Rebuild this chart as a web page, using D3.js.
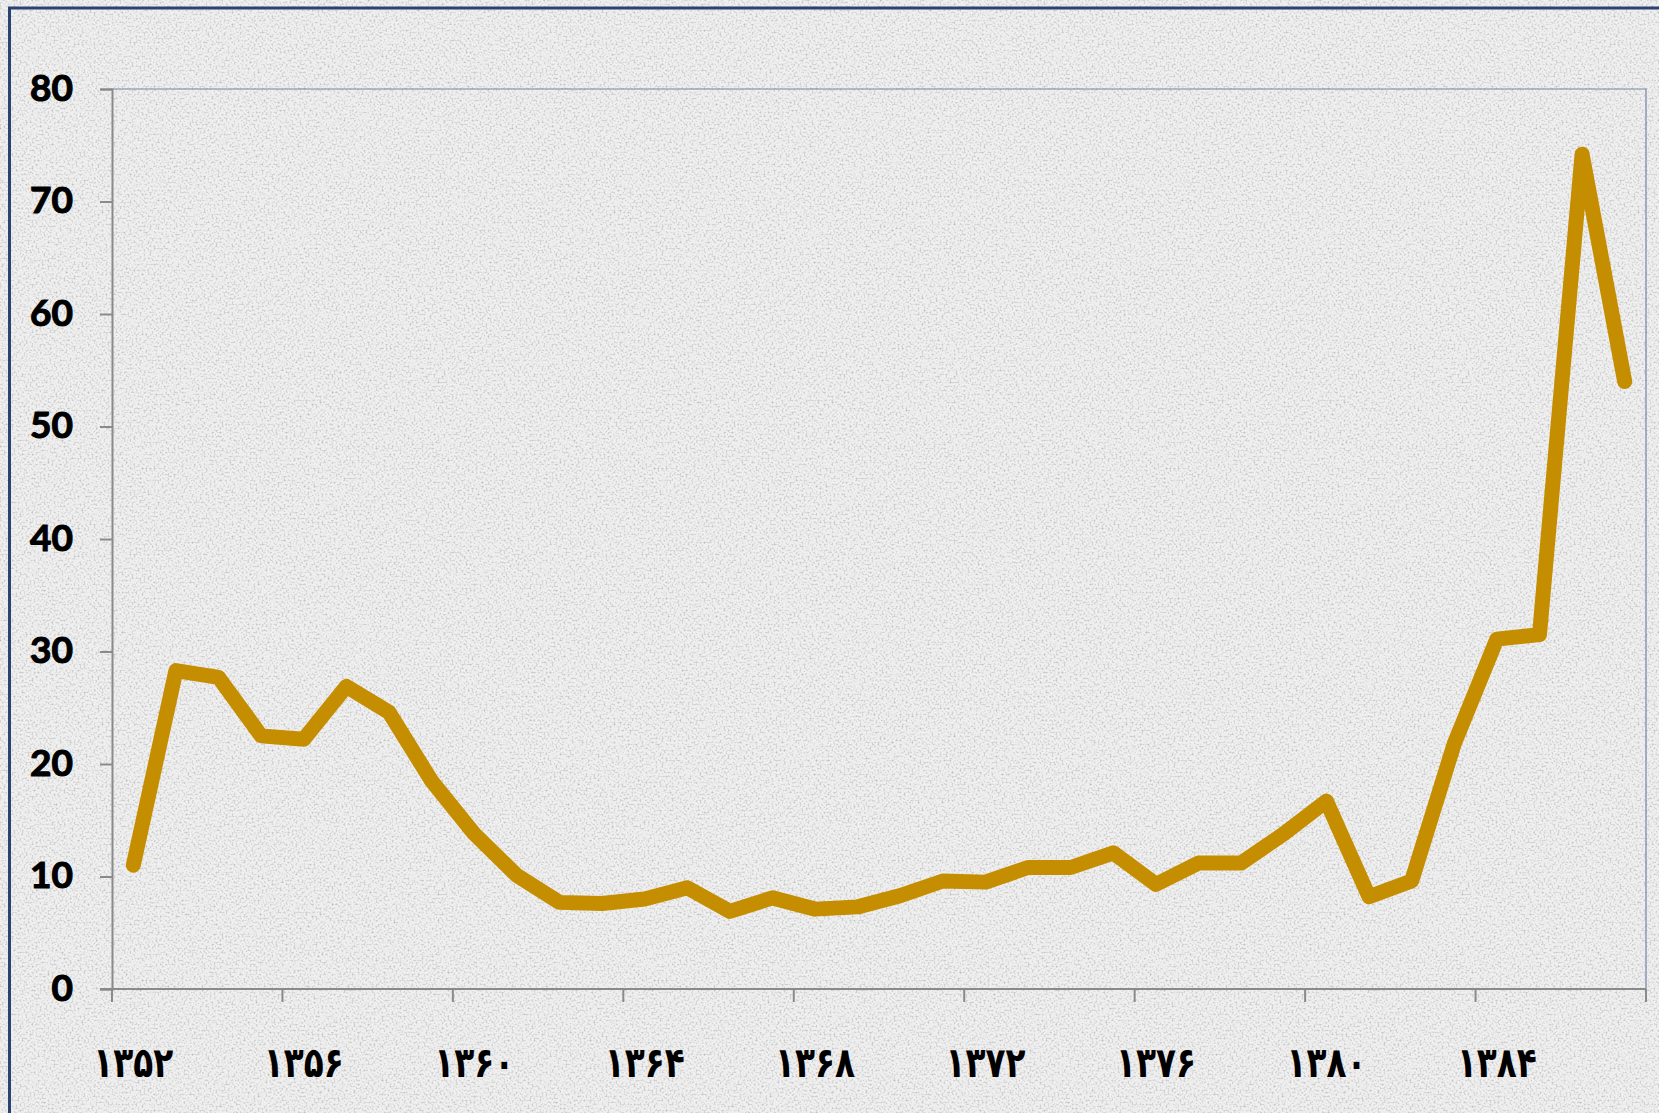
<!DOCTYPE html>
<html>
<head>
<meta charset="utf-8">
<script src="https://cdn.jsdelivr.net/npm/d3@7"></script>
<style>
  html, body { margin: 0; padding: 0; background: #ebebeb; overflow: hidden; }
  svg { display: block; }
</style>
</head>
<body>
<script>
// ---- data ----
const years = [1352, 1353, 1354, 1355, 1356, 1357, 1358, 1359, 1360, 1361, 1362, 1363,
               1364, 1365, 1366, 1367, 1368, 1369, 1370, 1371, 1372, 1373, 1374, 1375,
               1376, 1377, 1378, 1379, 1380, 1381, 1382, 1383, 1384, 1385, 1386, 1387];
const values = [11.0, 28.3, 27.7, 22.5, 22.2, 26.9, 24.6, 18.5, 13.8, 10.1, 7.7, 7.6,
                8.0, 9.0, 6.9, 8.1, 7.1, 7.3, 8.3, 9.6, 9.5, 10.8, 10.8, 12.1,
                9.3, 11.2, 11.2, 13.8, 16.7, 8.2, 9.6, 21.8, 31.1, 31.5, 74.2, 54.0];
const labelYears = [1352, 1356, 1360, 1364, 1368, 1372, 1376, 1380, 1384];
const xTickLabels = ["۱۳۵۲", "۱۳۵۶", "۱۳۶۰", "۱۳۶۴", "۱۳۶۸", "۱۳۷۲", "۱۳۷۶", "۱۳۸۰", "۱۳۸۴"];
const boundaryYears = [1352, 1356, 1360, 1364, 1368, 1372, 1376, 1380, 1384];
const yTicks = [0, 10, 20, 30, 40, 50, 60, 70, 80];

// ---- layout ----
const W = 1659, H = 1113;
const pL = 112, pT = 89, pR = 1646, pB = 989;

const svg = d3.select("body").append("svg").attr("width", W).attr("height", H);

// background texture
const defs = svg.append("defs");
const f = defs.append("filter").attr("id", "grain")
  .attr("x", 0).attr("y", 0).attr("width", W).attr("height", H)
  .attr("filterUnits", "userSpaceOnUse");
f.append("feTurbulence").attr("type", "fractalNoise").attr("baseFrequency", "0.5")
  .attr("numOctaves", 3).attr("seed", 7).attr("result", "t");
f.append("feColorMatrix").attr("type", "matrix")
  .attr("values", "0 0 0 0 0.45  0 0 0 0 0.45  0 0 0 0 0.45  2.6 0 0 0 -1.2");

svg.append("rect").attr("width", W).attr("height", H).attr("fill", "#f0f0f0");
svg.append("rect").attr("width", W).attr("height", H).attr("filter", "url(#grain)").attr("opacity", 0.8);

// outer frame
svg.append("rect").attr("x", 9.5).attr("y", 8).attr("width", W + 20).attr("height", H + 20)
  .attr("fill", "none").attr("stroke", "#2b4372").attr("stroke-width", 3);

// scales
const x = d3.scaleBand().domain(years).range([pL, pR]).padding(0);
const y = d3.scaleLinear().domain([0, 80]).range([pB, pT]);
const cx = d => x(d) + x.bandwidth() / 2;

// plot border (top & right)
svg.append("path")
  .attr("d", `M${pL},${pT}H${pR}V${pB}`)
  .attr("fill", "none").attr("stroke", "#7583a6").attr("stroke-width", 1.2);

// y axis
const yAxis = d3.axisLeft(y).tickValues(yTicks).tickSize(12).tickPadding(27).tickFormat(d3.format("d"));
const gy = svg.append("g").attr("transform", `translate(${pL},0)`).call(yAxis);
gy.select(".domain").attr("stroke", "#8a8a8a").attr("stroke-width", 2);
gy.selectAll(".tick line").attr("stroke", "#8a8a8a").attr("stroke-width", 2);
gy.selectAll(".tick text")
  .attr("font-family", "Lato, 'Open Sans', sans-serif").attr("font-weight", "bold")
  .attr("font-size", 37).attr("fill", "#000")
  .attr("stroke", "#000").attr("stroke-width", 1.1)
  .attr("dy", "0.30em");

// x axis line
svg.append("line").attr("x1", pL - 12).attr("x2", pR).attr("y1", pB).attr("y2", pB)
  .attr("stroke", "#8a8a8a").attr("stroke-width", 2);

// x tick marks at category boundaries
const bPos = boundaryYears.map(d => x(d)).concat([x.range()[1]]);
svg.append("g").selectAll("line").data(bPos).join("line")
  .attr("x1", d => d).attr("x2", d => d).attr("y1", pB).attr("y2", pB + 13)
  .attr("stroke", "#8a8a8a").attr("stroke-width", 2);

// x labels
const xAxis = d3.axisBottom(x).tickValues(labelYears).tickSize(0).tickPadding(0)
  .tickFormat((d, i) => xTickLabels[i]);
const gx = svg.append("g").attr("transform", `translate(0,${pB})`).call(xAxis);
gx.select(".domain").remove();
gx.selectAll(".tick text")
  .attr("font-family", "'DejaVu Sans', sans-serif").attr("font-weight", "bold")
  .attr("font-size", 42).attr("fill", "#000")
  .attr("transform", "scale(0.78,1)")
  .attr("y", 88).attr("dy", 0);

// line
const line = d3.line().x((d, i) => cx(years[i])).y(d => y(d));
svg.append("path").datum(values)
  .attr("d", line)
  .attr("fill", "none").attr("stroke", "#c58e00").attr("stroke-width", 15)
  .attr("stroke-linejoin", "round").attr("stroke-linecap", "round");
</script>
</body>
</html>
